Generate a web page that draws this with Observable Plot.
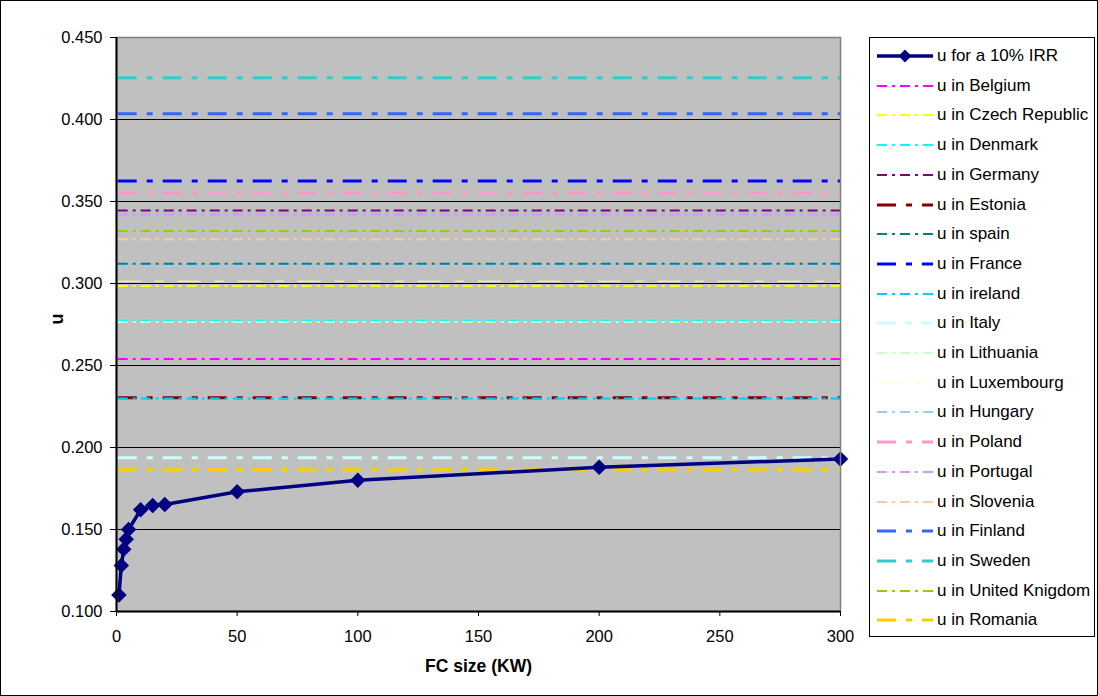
<!DOCTYPE html>
<html>
<head>
<meta charset="utf-8">
<script src="https://cdn.jsdelivr.net/npm/d3@7"></script>
<script src="https://cdn.jsdelivr.net/npm/@observablehq/plot@0.6"></script>
<style>
  html, body { margin: 0; padding: 0; background: #fff; }
  #wrap { position: relative; width: 1098px; height: 696px; font-family: "Liberation Sans", Arial, sans-serif; }
  #border { position: absolute; left: 0; top: 0; width: 1096px; height: 694px; border: 1px solid #000; pointer-events: none; }
  #legend { position: absolute; left: 869px; top: 37px; width: 224px; height: 598px; border: 1px solid #000; background: #fff; }
  .row { position: absolute; left: 0; height: 22px; display: flex; align-items: center; font-size: 17px; color: #000; white-space: nowrap; }
  .row svg { margin-left: 7px; margin-right: 4px; flex: none; }
</style>
</head>
<body>
<div id="wrap">
  <div id="chart"></div>
  <div id="legend"></div>
  <div id="border"></div>
</div>
<script>
// ---- data ----
const fcSize = [1, 2, 3, 4, 5, 10, 15, 20, 50, 100, 200, 300];
const uIRR = [0.110, 0.128, 0.138, 0.144, 0.150, 0.162, 0.1646, 0.1652, 0.173, 0.180, 0.188, 0.193];
const irrLabel = "u for a 10% IRR";

const countries = ["Belgium", "Czech Republic", "Denmark", "Germany", "Estonia", "spain", "France",
  "ireland", "Italy", "Lithuania", "Luxembourg", "Hungary", "Poland", "Portugal", "Slovenia",
  "Finland", "Sweden", "United Knigdom", "Romania"];
const uCountry = [0.254, 0.2985, 0.2773, 0.3445, 0.2303, 0.312, 0.3625,
  0.2299, 0.1937, 0.2765, 0.3014, 0.3106, 0.3553, 0.342, 0.327,
  0.4035, 0.4254, 0.332, 0.1864];

const xTicks = [0, 50, 100, 150, 200, 250, 300];
const yTicks = [0.100, 0.150, 0.200, 0.250, 0.300, 0.350, 0.400, 0.450];

// ---- styles ----
const DASHDOT = "10,5,3,5";
const LONGSHORT = "19,10,6,10";
const seriesStyle = {
  "Belgium":        {color: "#FF00FF", dash: DASHDOT, w: 2},
  "Czech Republic": {color: "#FFFF00", dash: DASHDOT, w: 2},
  "Denmark":        {color: "#00FFFF", dash: DASHDOT, w: 2},
  "Germany":        {color: "#800080", dash: DASHDOT, w: 2},
  "Estonia":        {color: "#800000", dash: LONGSHORT, w: 3},
  "spain":          {color: "#008080", dash: DASHDOT, w: 2},
  "France":         {color: "#0000FF", dash: LONGSHORT, w: 3},
  "ireland":        {color: "#00CCFF", dash: DASHDOT, w: 2},
  "Italy":          {color: "#CCFFFF", dash: LONGSHORT, w: 3},
  "Lithuania":      {color: "#CCFFCC", dash: DASHDOT, w: 2},
  "Luxembourg":     {color: "#E8E8BC", dash: "23,14,9,14", w: 1.5},
  "Hungary":        {color: "#99CCFF", dash: DASHDOT, w: 2},
  "Poland":         {color: "#FF99CC", dash: LONGSHORT, w: 3},
  "Portugal":       {color: "#CC99FF", dash: DASHDOT, w: 2},
  "Slovenia":       {color: "#FFCC99", dash: DASHDOT, w: 2},
  "Finland":        {color: "#3366FF", dash: LONGSHORT, w: 3},
  "Sweden":         {color: "#33CCCC", dash: LONGSHORT, w: 3},
  "United Knigdom": {color: "#99CC00", dash: DASHDOT, w: 2},
  "Romania":        {color: "#FFCC00", dash: LONGSHORT, w: 3}
};
const irrColor = "#000080";

const irrData = fcSize.map((x, i) => ({x, u: uIRR[i]}));

const ruleMarks = countries.map((c, i) => {
  const s = seriesStyle[c];
  return Plot.ruleY([uCountry[i]], {stroke: s.color, strokeWidth: s.w, strokeDasharray: s.dash, x1: 0.7, x2: 300});
});

const chart = Plot.plot({
  width: 1098,
  height: 696,
  marginLeft: 116,
  marginRight: 258,
  marginTop: 37,
  marginBottom: 85,
  style: {background: "transparent", fontFamily: "'Liberation Sans', Arial, sans-serif", fontSize: "16.5px", color: "#000"},
  x: {domain: [0, 300]},
  y: {domain: [0.1, 0.45]},
  marks: [
    Plot.frame({fill: "#C0C0C0", stroke: "none"}),
    Plot.gridY(yTicks, {stroke: "#000", strokeOpacity: 1, strokeWidth: 1}),
    ...ruleMarks,
    Plot.line(irrData, {x: "x", y: "u", stroke: irrColor, strokeWidth: 3.5}),
    Plot.dot(irrData, {x: "x", y: "u", symbol: "diamond2", r: 7, fill: irrColor, stroke: "none"}),
    Plot.frame({stroke: "#808080", strokeWidth: 1.5}),
    Plot.ruleX([0], {stroke: "#000", strokeWidth: 2}),
    Plot.ruleY([0.1], {stroke: "#000", strokeWidth: 2}),
    Plot.axisX(xTicks, {tickSize: 5, tickPadding: 14, tickFormat: d => String(d), label: null, stroke: "#000", fontSize: 16.5}),
    Plot.axisY(yTicks, {tickSize: 6, tickPadding: 8, tickFormat: d3.format(".3f"), label: null, stroke: "#000", fontSize: 16.5}),
    Plot.text(["u"], {frameAnchor: "left", dx: -59, rotate: -90, fontWeight: "bold", fontSize: 18, fill: "#000"}),
    Plot.text(["FC size (KW)"], {frameAnchor: "bottom", dy: 60, fontWeight: "bold", fontSize: 17.5, fill: "#000"})
  ]
});
document.getElementById("chart").appendChild(chart);

// ---- legend ----
const legend = document.getElementById("legend");
const labels = [irrLabel, ...countries.map(c => "u in " + c)];
const rowStep = 29.7;
labels.forEach((lab, i) => {
  const row = document.createElement("div");
  row.className = "row";
  row.style.top = (18 + i * rowStep - 11) + "px";
  const ns = "http://www.w3.org/2000/svg";
  const svg = document.createElementNS(ns, "svg");
  svg.setAttribute("width", 56);
  svg.setAttribute("height", 16);
  const line = document.createElementNS(ns, "line");
  line.setAttribute("x1", 0); line.setAttribute("x2", 56);
  line.setAttribute("y1", 8); line.setAttribute("y2", 8);
  if (i === 0) {
    line.setAttribute("stroke", irrColor);
    line.setAttribute("stroke-width", 3.5);
    svg.appendChild(line);
    const dm = document.createElementNS(ns, "path");
    dm.setAttribute("d", "M28,1.5 L34.5,8 L28,14.5 L21.5,8 Z");
    dm.setAttribute("fill", irrColor);
    svg.appendChild(dm);
  } else {
    const s = seriesStyle[countries[i - 1]];
    line.setAttribute("stroke", countries[i - 1] === "Luxembourg" ? "#FFFFCC" : s.color);
    line.setAttribute("stroke-width", s.w);
    line.setAttribute("stroke-dasharray", s.dash);
    svg.appendChild(line);
  }
  row.appendChild(svg);
  const span = document.createElement("span");
  span.textContent = lab;
  row.appendChild(span);
  legend.appendChild(row);
});
</script>
</body>
</html>
